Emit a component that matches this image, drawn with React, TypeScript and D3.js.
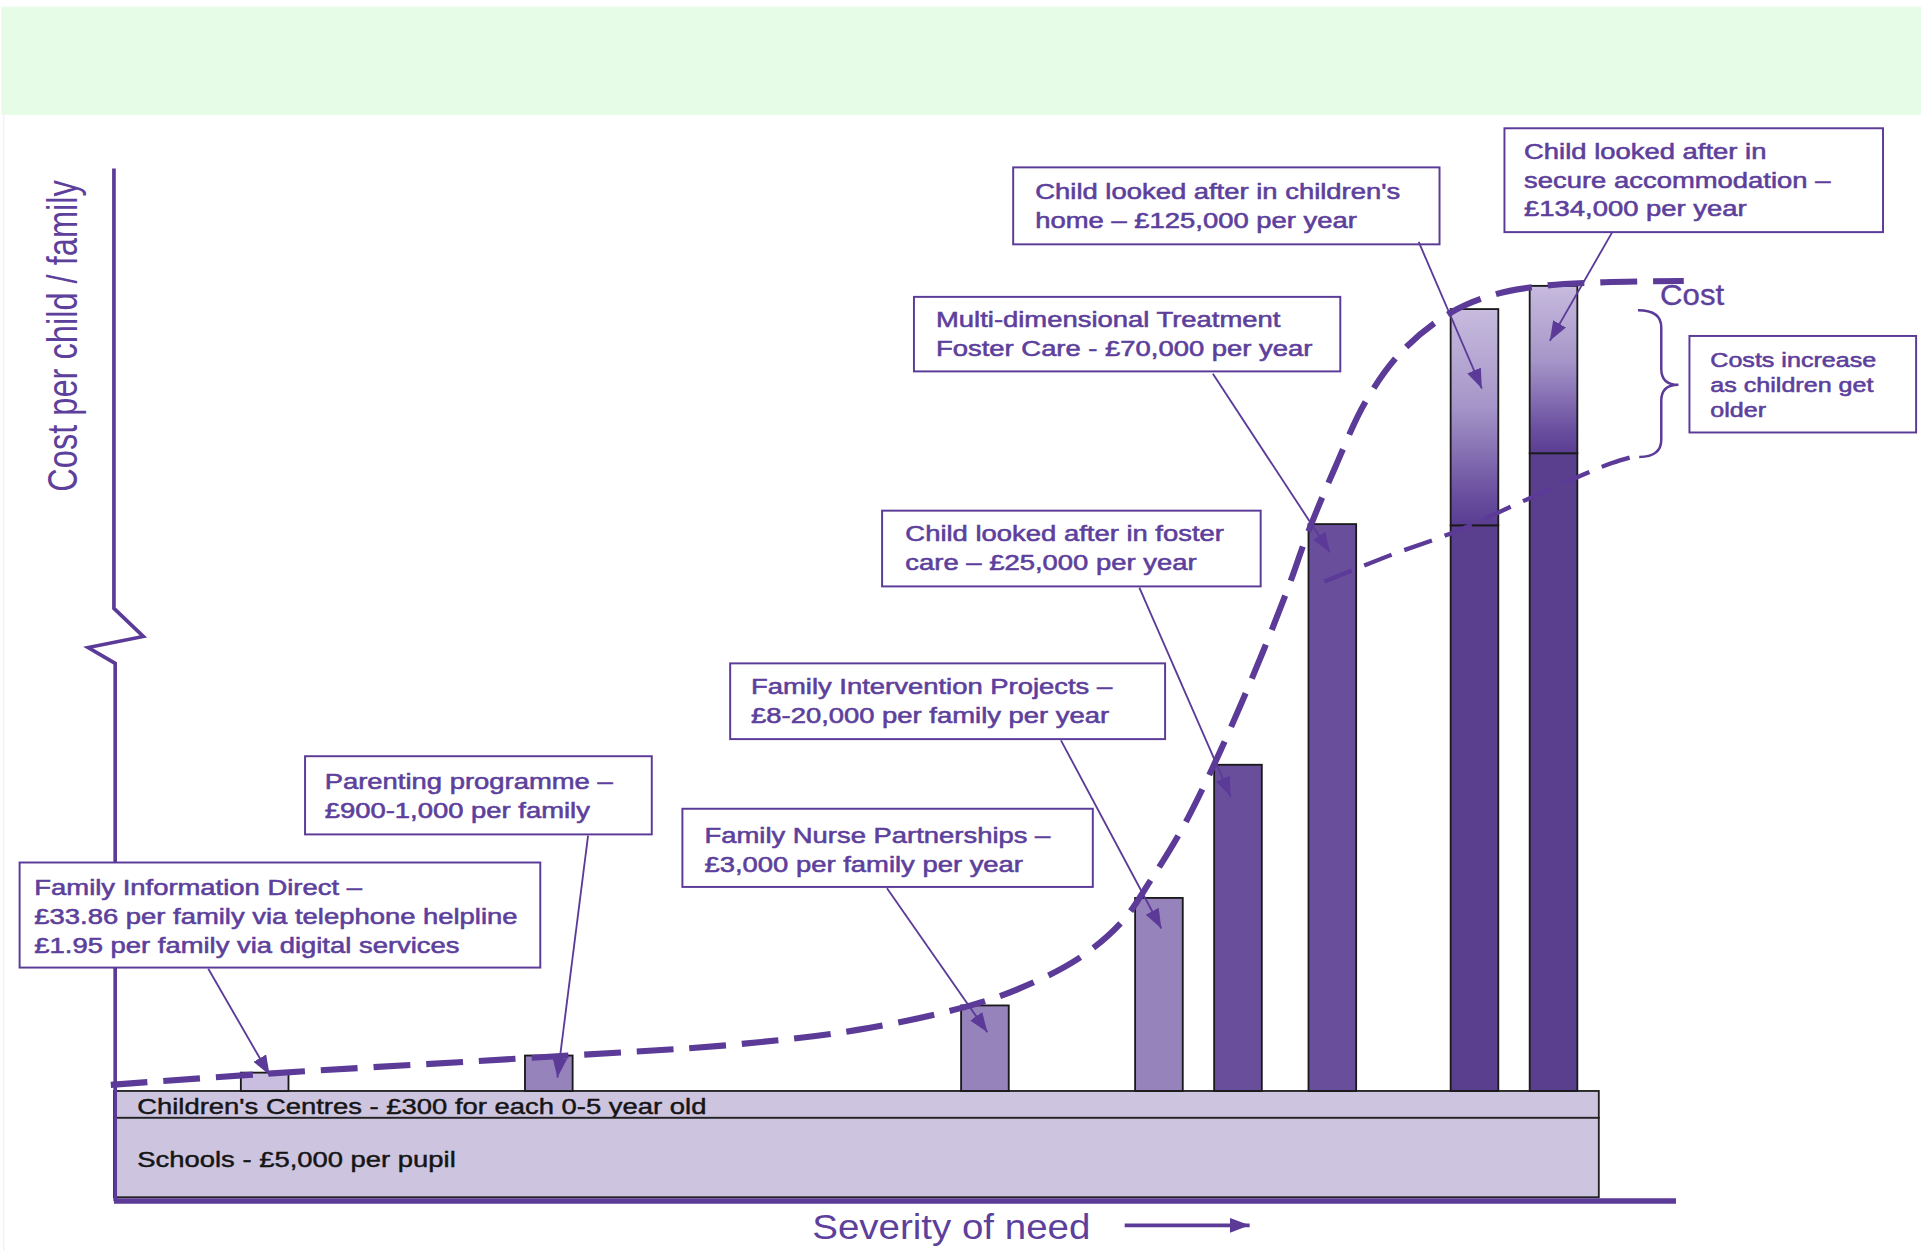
import React from "react";
import * as d3 from "d3";

// services, left to right along "severity of need"
const services = [
  "Family Information Direct",
  "Parenting programme",
  "Family Nurse Partnerships",
  "Family Intervention Projects",
  "Child looked after in foster care",
  "Multi-dimensional Treatment Foster Care",
  "Child looked after in children's home",
  "Child looked after in secure accommodation",
];
// position on the severity axis (0-100) and relative cost index (bar height)
const severity = [9.65, 27.84, 55.76, 66.9, 71.96, 78.0, 87.1, 92.16];
const costIndex = [15, 29, 70, 158, 267, 464, 640, 659];
// solid lower part of each bar (the last two have an "older children" top part)
const youngCostIndex = [15, 29, 70, 158, 267, 464, 463, 522];
const barTone = ["light", "mid", "mid", "mid", "dark", "dark", "deep", "deep"];

// dashed "Cost" curve
const costCurveSeverity = [-0.2, 9.65, 27.84, 39.76, 47.6, 54.27, 57.8, 61.7, 64.5, 66.4, 68.4, 70.35, 72.7, 75.06, 76.47, 78.2, 80.16, 82.5, 85.57, 88.4, 91.5, 95.45, 100.5];
const costCurveIndex = [5, 14, 28, 38, 50, 68, 83, 108, 138, 173, 215, 265, 333, 408, 458, 511, 565, 606, 637, 652, 659, 662, 663];
// thinner dashed curve for younger children
const youngCurveSeverity = [77.5, 81.6, 85.9, 90.6, 95.9, 97.8];
const youngCurveIndex = [417, 438, 458, 485, 514, 521];

// universal services under the bars
const baseServices = ["Children's Centres - £300 for each 0-5 year old", "Schools - £5,000 per pupil"];
const baseFrom = [0, -22];
const baseTo = [-22, -87];

const annotationText = [
  ["Family Information Direct –", "£33.86 per family via telephone helpline", "£1.95 per family via digital services"],
  ["Parenting programme –", "£900-1,000 per family"],
  ["Family Nurse Partnerships –", "£3,000 per family per year"],
  ["Family Intervention Projects –", "£8-20,000 per family per year"],
  ["Child looked after in foster", "care – £25,000 per year"],
  ["Multi-dimensional Treatment", "Foster Care - £70,000 per year"],
  ["Child looked after in children's", "home – £125,000 per year"],
  ["Child looked after in", "secure accommodation –", "£134,000 per year"],
];
const olderNote = ["Costs increase", "as children get", "older"];

// box layout (viewBox units) and arrow start / tip offsets relative to bar
const boxes = [
  { x: 16, y: 706, w: 425, h: 86, px: 12, first: 27, from: [170, 793], dx: 4, depth: 2 },
  { x: 249, y: 619, w: 283, h: 64, px: 16, first: 27, from: [480, 684], dx: 7, depth: 18 },
  { x: 557, y: 662, w: 335, h: 64, px: 18, first: 28, from: [724, 727], dx: 2, depth: 22 },
  { x: 596, y: 543, w: 355, h: 62, px: 17, first: 25, from: [866, 606], dx: 2, depth: 25 },
  { x: 720, y: 418, w: 309, h: 62, px: 19, first: 25, from: [930, 481], dx: -6, depth: 26 },
  { x: 746, y: 243, w: 348, h: 61, px: 18, first: 25, from: [990, 306], dx: -2, depth: 23 },
  { x: 827, y: 137, w: 348, h: 63, px: 18, first: 26, from: [1158, 198], dx: 6, depth: 65 },
  { x: 1228, y: 105, w: 309, h: 85, px: 16, first: 25, from: [1316, 190], dx: -3, depth: 45 },
];

const W = 1568;
const H = 1024;
const PURPLE = "#5b3a98";
const TEXT = "#5d3f9c";
const FONT = "'Liberation Sans', Arial, Helvetica, sans-serif";
const SX = 1.28;

const toneFill: Record<string, string> = {
  light: "#c9bee0",
  mid: "#9783bb",
  dark: "#694e9c",
  deep: "#5b3f8f",
};

export default function App() {
  const x = d3.scaleLinear().domain([0, 100]).range([93, 1368]);
  const y = d3.scaleLinear().domain([0, 700]).range([893, 193]);
  const bw = x(3.05) - x(0);

  const curve = d3
    .line<number>()
    .x((_, i) => x(costCurveSeverity[i]))
    .y((d) => y(d))
    .curve(d3.curveCatmullRom.alpha(0.5));
  const youngLine = d3
    .line<number>()
    .x((_, i) => x(youngCurveSeverity[i]))
    .y((d) => y(d))
    .curve(d3.curveCatmullRom.alpha(0.5));

  const axisX = x(0);
  const axisPath = [
    `M${axisX},${y(755)}`,
    `L${axisX},${y(395)}`,
    `L${x(1.88)},${y(372)}`,
    `L${x(-1.65)},${y(363)}`,
    `L${x(0.08)},${y(350)}`,
    `L${x(0.08)},${y(-90)}`,
  ].join(" ");

  return (
    <svg
      width={1921}
      height={1251}
      viewBox={`0 0 ${W} ${H}`}
      preserveAspectRatio="none"
      style={{ position: "absolute", left: 0, top: 0, background: "#fff" }}
      fontFamily={FONT}
    >
      <defs>
        <linearGradient id="older" x1="0" y1="0" x2="0" y2="1">
          <stop offset="0" stopColor="#c7bbde" />
          <stop offset="0.45" stopColor="#a595c8" />
          <stop offset="0.85" stopColor="#6b50a0" />
          <stop offset="1" stopColor="#5a3d91" />
        </linearGradient>
        <marker id="arrow" markerUnits="userSpaceOnUse" markerWidth="16" markerHeight="12" refX="16" refY="6" orient="auto">
          <path d="M0,0 L16,6 L0,12 z" fill={PURPLE} />
        </marker>
        <marker id="arrowBig" markerUnits="userSpaceOnUse" markerWidth="16" markerHeight="12" refX="16" refY="6" orient="auto">
          <path d="M0,0 L16,6 L0,12 z" fill={PURPLE} />
        </marker>
      </defs>

      <rect x={1} y={5.5} width={W - 1} height={88.5} fill="#e7fce7" />
      <line x1={3} y1={94} x2={3} y2={H} stroke="#eef2f6" strokeWidth={1} />

      {/* universal services */}
      {baseServices.map((s, i) => (
        <g key={s}>
          <rect
            x={x(0)}
            y={y(baseFrom[i])}
            width={x(95.06) - x(0)}
            height={y(baseTo[i]) - y(baseFrom[i])}
            fill="#cdc4df"
            stroke="#222"
            strokeWidth={1.5}
          />
          <text
            transform={`translate(112,${i === 0 ? y(baseFrom[i]) + 19 : y(baseFrom[i]) + 40}) scale(${SX},1)`}
            fontSize={17.5}
            fill="#151515"
            stroke="#151515"
            strokeWidth={0.35}
          >
            {s}
          </text>
        </g>
      ))}

      {/* axes */}
      <path d={axisPath} fill="none" stroke={PURPLE} strokeWidth={3} />
      <line x1={x(0)} y1={y(-90)} x2={x(100)} y2={y(-90)} stroke={PURPLE} strokeWidth={4.5} />

      {/* bars */}
      {services.map((s, i) => {
        const bx = x(severity[i]) - bw / 2;
        const older = costIndex[i] > youngCostIndex[i];
        return (
          <g key={s}>
            <rect
              x={bx}
              y={y(youngCostIndex[i])}
              width={bw}
              height={y(0) - y(youngCostIndex[i])}
              fill={toneFill[barTone[i]]}
              stroke="#1a1a1a"
              strokeWidth={1.5}
            />
            {older && (
              <rect
                x={bx}
                y={y(costIndex[i])}
                width={bw}
                height={y(youngCostIndex[i]) - y(costIndex[i])}
                fill="url(#older)"
                stroke="#1a1a1a"
                strokeWidth={1.5}
              />
            )}
          </g>
        );
      })}

      {/* cost curves */}
      <path d={curve(costCurveIndex) || ""} fill="none" stroke={PURPLE} strokeWidth={5} strokeDasharray="30 13" />
      <path d={youngLine(youngCurveIndex) || ""} fill="none" stroke={PURPLE} strokeWidth={3.5} strokeDasharray="24 11" />

      {/* brace */}
      <path
        d="M1337,254 Q1356,254 1356,268 L1356,302 Q1356,315 1370,315 Q1356,315 1356,328 L1356,360 Q1356,374 1338,374"
        fill="none"
        stroke={PURPLE}
        strokeWidth={2}
      />
      <text transform={`translate(1355,250) scale(1.06,1)`} fontSize={24} fill={TEXT} stroke={TEXT} strokeWidth={0.3}>
        Cost
      </text>

      {/* annotations */}
      {boxes.map((b, i) => {
        const tipX = x(severity[i]) + b.dx;
        const tipY = y(costIndex[i]) + b.depth;
        return (
          <g key={i}>
            <rect x={b.x} y={b.y} width={b.w} height={b.h} fill="#fff" stroke={PURPLE} strokeWidth={1.6} />
            <g transform={`translate(${b.x + b.px},${b.y + b.first}) scale(${SX},1)`}>
              {annotationText[i].map((l, j) => (
                <text key={j} y={j * 23.5} fontSize={17.5} fill={TEXT} stroke={TEXT} strokeWidth={0.45}>
                  {l}
                </text>
              ))}
            </g>
            <line
              x1={b.from[0]}
              y1={b.from[1]}
              x2={tipX}
              y2={tipY}
              stroke={PURPLE}
              strokeWidth={1.5}
              markerEnd="url(#arrow)"
            />
          </g>
        );
      })}

      <rect x={1379} y={275} width={185} height={79} fill="#fff" stroke={PURPLE} strokeWidth={1.6} />
      <g transform={`translate(1396,300) scale(${SX},1)`}>
        {olderNote.map((l, j) => (
          <text key={j} y={j * 20.5} fontSize={16} fill={TEXT} stroke={TEXT} strokeWidth={0.45}>
            {l}
          </text>
        ))}
      </g>

      {/* axis titles */}
      <text
        transform={`translate(63,275) scale(${SX},1) rotate(-90)`}
        textAnchor="middle"
        fontSize={26.7}
        fill={TEXT}
      >
        Cost per child / family
      </text>
      <text x={663} y={1014} fontSize={28} textLength={227} lengthAdjust="spacingAndGlyphs" fill={TEXT}>
        Severity of need
      </text>
      <line x1={918} y1={1003} x2={1020} y2={1003} stroke={PURPLE} strokeWidth={3} markerEnd="url(#arrowBig)" />
    </svg>
  );
}
